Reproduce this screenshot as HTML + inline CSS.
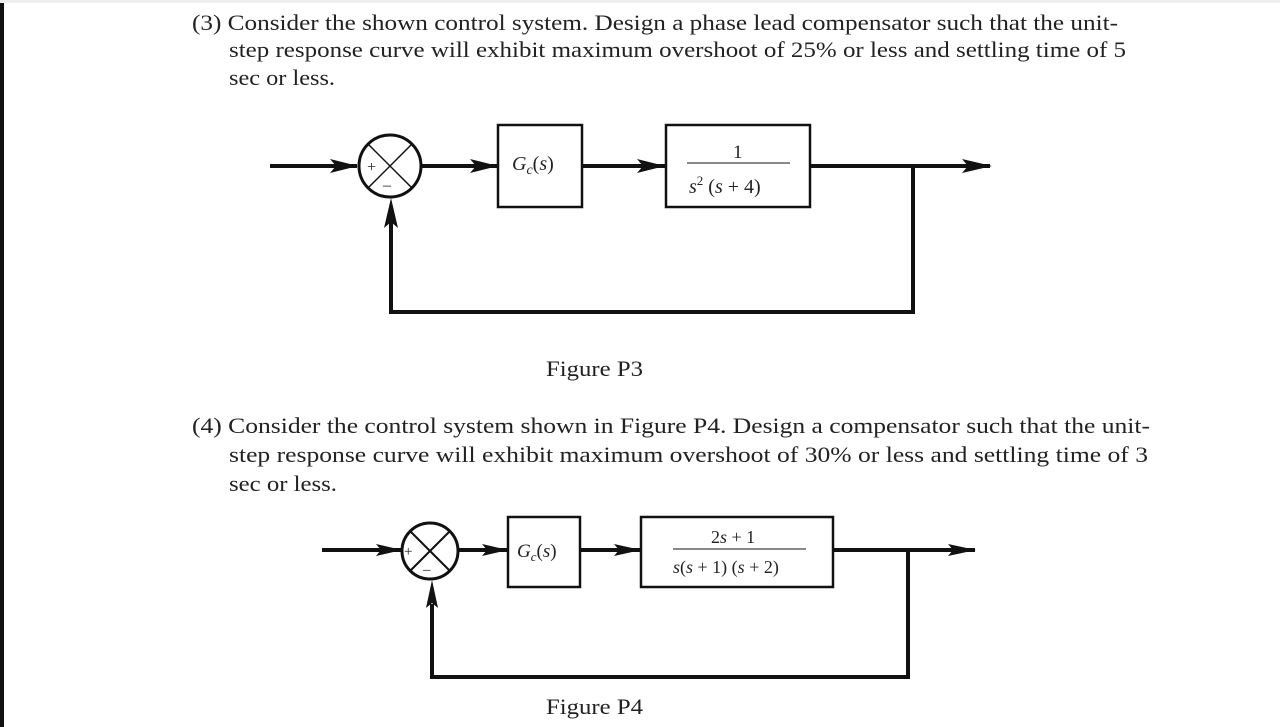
<!DOCTYPE html>
<html><head><meta charset="utf-8"><style>
html,body{margin:0;padding:0;background:#fff;}
svg{display:block;}
text{font-family:"Liberation Serif",serif;fill:#222;}
</style></head><body>
<svg width="1280" height="727" viewBox="0 0 1280 727" xmlns="http://www.w3.org/2000/svg">
<rect x="0" y="0" width="1280" height="727" fill="#fff"/>
<rect x="0" y="0" width="4" height="727" fill="#111"/>
<rect x="0" y="0" width="1280" height="3" fill="#eee"/>
<g font-size="22">
<text x="192" y="30" textLength="926" lengthAdjust="spacingAndGlyphs">(3) Consider the shown control system. Design a phase lead compensator such that the unit-</text>
<text x="229" y="57" textLength="897" lengthAdjust="spacingAndGlyphs">step response curve will exhibit maximum overshoot of 25% or less and settling time of 5</text>
<text x="229" y="85" textLength="106" lengthAdjust="spacingAndGlyphs">sec or less.</text>
<text x="546" y="376" textLength="97" lengthAdjust="spacingAndGlyphs">Figure P3</text>
<text x="192" y="433" textLength="958" lengthAdjust="spacingAndGlyphs">(4) Consider the control system shown in Figure P4. Design a compensator such that the unit-</text>
<text x="229" y="462" textLength="919" lengthAdjust="spacingAndGlyphs">step response curve will exhibit maximum overshoot of 30% or less and settling time of 3</text>
<text x="229" y="491" textLength="108" lengthAdjust="spacingAndGlyphs">sec or less.</text>
<text x="546" y="714" textLength="97" lengthAdjust="spacingAndGlyphs">Figure P4</text>
</g>
<defs>
<marker id="ar" markerWidth="10" markerHeight="8" refX="10" refY="4" orient="auto" markerUnits="userSpaceOnUse">
<path d="M0,0 L10,4 L0,8 L3,4 Z" fill="#111"/>
</marker>
</defs>
<!-- Diagram 1 -->
<g stroke="#111" fill="none">
<line x1="270" y1="166" x2="357" y2="166" stroke-width="4"/>
<path d="M330,159 L358,166 L330,173 L336,166 Z" fill="#111" stroke="none"/>
<circle cx="390" cy="166" r="31" stroke-width="3" fill="#fff"/>
<line x1="368" y1="144" x2="412" y2="188" stroke-width="1.5"/>
<line x1="412" y1="144" x2="368" y2="188" stroke-width="1.5"/>
<line x1="421" y1="166" x2="498" y2="166" stroke-width="4"/>
<path d="M470,159 L498,166 L470,173 L476,166 Z" fill="#111" stroke="none"/>
<rect x="498" y="125" width="84" height="82" stroke-width="2.5" fill="#fff"/>
<line x1="582" y1="166" x2="666" y2="166" stroke-width="4"/>
<path d="M637,159 L665,166 L637,173 L643,166 Z" fill="#111" stroke="none"/>
<rect x="666" y="125" width="144" height="82" stroke-width="2.5" fill="#fff"/>
<line x1="687" y1="163" x2="790" y2="163" stroke-width="1"/>
<line x1="810" y1="166" x2="990" y2="166" stroke-width="4"/>
<path d="M962,159 L992,166 L962,173 L968,166 Z" fill="#111" stroke="none"/>
<polyline points="913,166 913,312 391,312 391,222" stroke-width="4"/>
<path d="M384,228 L391,198 L398,228 L391,222 Z" fill="#111" stroke="none"/>
</g>
<text x="367" y="172" font-size="16">+</text>
<text x="383" y="190" font-size="16">–</text>
<text x="512" y="170" font-size="20" font-style="italic">G<tspan font-size="14" dy="4">c</tspan><tspan dy="-4" font-style="normal">(</tspan>s<tspan font-style="normal">)</tspan></text>
<text x="733" y="158" font-size="19">1</text>
<text x="689" y="193" font-size="20"><tspan font-style="italic">s</tspan><tspan font-size="13" dy="-8">2</tspan><tspan dy="8"> (</tspan><tspan font-style="italic">s</tspan> + 4)</text>
<!-- Diagram 2 -->
<g stroke="#111" fill="none">
<line x1="322" y1="550" x2="402" y2="550" stroke-width="4"/>
<path d="M376,544 L402,550 L376,556 L381,550 Z" fill="#111" stroke="none"/>
<circle cx="430" cy="551" r="28" stroke-width="3" fill="#fff"/>
<line x1="410" y1="531" x2="450" y2="571" stroke-width="2"/>
<line x1="450" y1="531" x2="410" y2="571" stroke-width="2"/>
<line x1="458" y1="550" x2="508" y2="550" stroke-width="4"/>
<path d="M482,544 L508,550 L482,556 L487,550 Z" fill="#111" stroke="none"/>
<rect x="508" y="517" width="72" height="70" stroke-width="2.5" fill="#fff"/>
<line x1="580" y1="550" x2="641" y2="550" stroke-width="4"/>
<path d="M614,544 L641,550 L614,556 L619,550 Z" fill="#111" stroke="none"/>
<rect x="641" y="517" width="192" height="70" stroke-width="2.5" fill="#fff"/>
<line x1="673" y1="549" x2="806" y2="549" stroke-width="1"/>
<line x1="833" y1="550" x2="975" y2="550" stroke-width="4"/>
<path d="M948,544 L976,550 L948,556 L953,550 Z" fill="#111" stroke="none"/>
<polyline points="908,550 908,677 432,677 432,604" stroke-width="4"/>
<path d="M426,608 L432,580 L438,608 L432,603 Z" fill="#111" stroke="none"/>
</g>
<text x="404" y="556" font-size="15">+</text>
<text x="423" y="574" font-size="15">–</text>
<text x="517" y="557" font-size="19" font-style="italic">G<tspan font-size="13" dy="4">c</tspan><tspan dy="-4" font-style="normal">(</tspan>s<tspan font-style="normal">)</tspan></text>
<text x="711" y="543" font-size="18">2<tspan font-style="italic">s</tspan> + 1</text>
<text x="673" y="573" font-size="18"><tspan font-style="italic">s</tspan>(<tspan font-style="italic">s</tspan> + 1) (<tspan font-style="italic">s</tspan> + 2)</text>
</svg>
</body></html>
